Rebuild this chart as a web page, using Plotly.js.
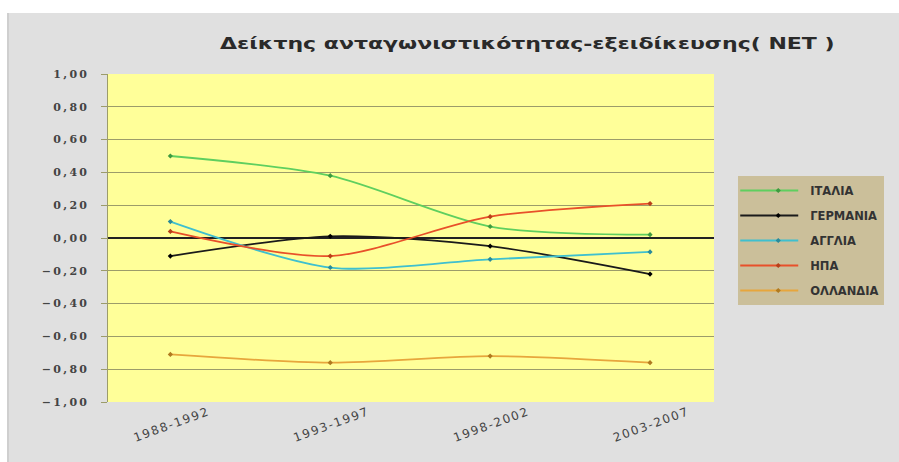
<!DOCTYPE html>
<html>
<head>
<meta charset="utf-8">
<script src="https://cdn.plot.ly/plotly-3.0.1.min.js"></script>
<style>
html,body{margin:0;padding:0;background:#ffffff;width:899px;height:462px;overflow:hidden;}
#chart{position:absolute;left:7px;top:13px;width:892px;height:449px;border-left:2px solid #cfcfcf;box-sizing:border-box;}
#chart .ytick text{letter-spacing:2.3px;}
#chart .xtick text{letter-spacing:1.6px;}
</style>
</head>
<body>
<div id="chart"></div>
<script>
const periods = ["1988-1992", "1993-1997", "1998-2002", "2003-2007"];
const seriesNames = ["ΙΤΑΛΙΑ", "ΓΕΡΜΑΝΙΑ", "ΑΓΓΛΙΑ", "ΗΠΑ", "ΟΛΛΑΝΔΙΑ"];
const italia = [0.50, 0.38, 0.07, 0.02];
const germania = [-0.11, 0.01, -0.05, -0.22];
const anglia = [0.10, -0.18, -0.13, -0.085];
const ipa = [0.04, -0.11, 0.13, 0.21];
const ollandia = [-0.71, -0.76, -0.72, -0.76];
const yTicks = [-1, -0.8, -0.6, -0.4, -0.2, 0, 0.2, 0.4, 0.6, 0.8, 1];

const values = [italia, germania, anglia, ipa, ollandia];
const colors = ["#5fcf5f", "#1a1a1a", "#3fc0cf", "#e8502a", "#e7a63c"];
const markerColors = ["#3f9a3f", "#000000", "#2a8a9a", "#b8401a", "#b07a20"];

const traces = values.map((v, i) => ({
  x: periods,
  y: v,
  name: seriesNames[i],
  legendgroup: "g" + i,
  type: "scatter",
  mode: "lines+markers",
  line: {color: colors[i], width: 1.8, shape: "spline", smoothing: 0.8},
  marker: {color: markerColors[i], size: 4, symbol: "diamond"}
}));

const layout = {
  width: 892,
  height: 449,
  paper_bgcolor: "#e0e0e0",
  plot_bgcolor: "#ffff99",
  separators: ",.",
  margin: {l: 99, r: 187, t: 61, b: 60},
  title: {
    text: "<b>Δείκτης ανταγωνιστικότητας-εξειδίκευσης( NET )</b>",
    font: {family: "DejaVu Sans, sans-serif", size: 15, color: "#2a2a2a"},
    x: 0.581, xanchor: "center", y: 0.932, yanchor: "middle", xref: "container", yref: "container"
  },
  xaxis: {
    type: "category",
    range: [-0.39, 3.4],
    showgrid: false,
    zeroline: false,
    showline: false,
    ticks: "",
    tickangle: -20,
    ticklabelshift: 38,
    ticklabelstandoff: 0,
    tickfont: {family: "DejaVu Sans, sans-serif", size: 12, color: "#444444"},
    fixedrange: true
  },
  yaxis: {
    range: [-1, 1],
    tickvals: yTicks,
    tickformat: ".2f",
    showgrid: true,
    gridcolor: "#9c9c6a",
    gridwidth: 1,
    zeroline: true,
    zerolinecolor: "#222222",
    zerolinewidth: 1.2,
    showline: true,
    linecolor: "#9c9c6a",
    linewidth: 1.5,
    ticks: "outside",
    ticklen: 6,
    tickcolor: "#9c9c6a",
    ticklabelstandoff: 9,
    tickfont: {family: "DejaVu Serif, serif", size: 11, color: "#444444", weight: "bold"},
    fixedrange: true
  },
  showlegend: true,
  legend: {
    x: 1.04, xanchor: "left",
    y: 0.689, yanchor: "top",
    bgcolor: "#cbbf9a",
    borderwidth: 0,
    tracegroupgap: 6,
    itemwidth: 62,
    font: {family: "DejaVu Sans, sans-serif", size: 11.5, color: "#333333", weight: "bold"}
  }
};

Plotly.newPlot("chart", traces, layout, {displayModeBar: false, staticPlot: true}).then(gd => {
  // stretch the title horizontally like the reference
  const t = gd.querySelector(".gtitle");
  if (t) {
    const bb = t.getBBox();
    const s = 615 / bb.width;
    const cx = bb.x + bb.width / 2;
    t.setAttribute("transform", `translate(${cx * (1 - s)},0) scale(${s},1)`);
  }
  // lengthen the legend line samples
  gd.querySelectorAll(".legend .legendlines path").forEach(p => p.setAttribute("d", "M2,0h58"));
  gd.querySelectorAll(".legend .legendpoints path").forEach(p => {
    const tr = p.getAttribute("transform") || "";
    p.setAttribute("transform", tr.replace(/translate\(([-\d.]+),/, "translate(40,"));
  });
});
</script>
</body>
</html>
